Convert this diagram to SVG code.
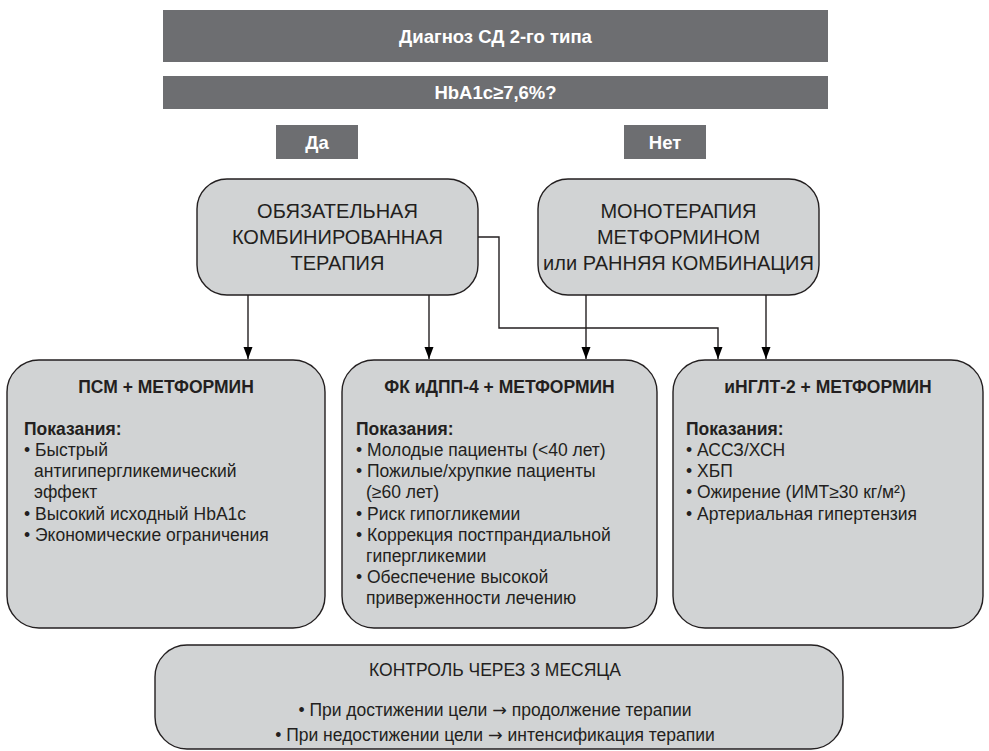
<svg xmlns="http://www.w3.org/2000/svg" width="989" height="751" viewBox="0 0 989 751">
<style>
.bg{fill:#ffffff}
.dark{fill:#6d6e71}
.box{fill:#d1d3d4;stroke:#231f20;stroke-width:1.4}
.wt{font-family:"Liberation Sans",Arial,sans-serif;font-weight:bold;fill:#ffffff;font-size:18.5px;text-anchor:middle}
.cap{font-family:"Liberation Sans",Arial,sans-serif;fill:#231f20;font-size:20px;text-anchor:middle}
.ttl{font-family:"Liberation Sans",Arial,sans-serif;font-weight:bold;fill:#231f20;font-size:17.5px;text-anchor:middle}
.hd{font-family:"Liberation Sans",Arial,sans-serif;font-weight:bold;fill:#231f20;font-size:17.5px}
.tx{font-family:"Liberation Sans",Arial,sans-serif;fill:#231f20;font-size:17.5px}
.bt{font-family:"Liberation Sans",Arial,sans-serif;fill:#231f20;font-size:17.5px;text-anchor:middle}
.ar{font-family:"DejaVu Sans",sans-serif}
.ln{fill:none;stroke:#231f20;stroke-width:1.4}
</style>
<defs>
<marker id="ah" markerUnits="userSpaceOnUse" markerWidth="12" markerHeight="16" refX="16" refY="6" viewBox="0 0 16 12" orient="auto">
<path d="M0,0 L16,6 L0,12 z" fill="#000000"/>
</marker>
</defs>
<rect class="bg" x="0" y="0" width="989" height="751"/>

<g id="diagnosis">
<rect class="dark" x="163" y="10" width="665" height="52"/>
<text class="wt" x="495.5" y="43">Диагноз СД 2-го типа</text>
</g>
<g id="hba1c">
<rect class="dark" x="163" y="76" width="665" height="33"/>
<text class="wt" x="495.5" y="99">HbA1c≥7,6%?</text>
</g>
<g id="yes">
<rect class="dark" x="276" y="125" width="82" height="34"/>
<text class="wt" x="317" y="149">Да</text>
</g>
<g id="no">
<rect class="dark" x="624" y="125" width="82" height="34"/>
<text class="wt" x="665" y="149">Нет</text>
</g>

<g id="combo">
<rect class="box" x="197" y="179" width="281" height="116" rx="30"/>
<text class="cap" x="337.5" y="218">ОБЯЗАТЕЛЬНАЯ</text>
<text class="cap" x="337.5" y="244">КОМБИНИРОВАННАЯ</text>
<text class="cap" x="337.5" y="270">ТЕРАПИЯ</text>
</g>
<g id="mono">
<rect class="box" x="538" y="179" width="281" height="116" rx="30"/>
<text class="cap" x="678.5" y="218">МОНОТЕРАПИЯ</text>
<text class="cap" x="678.5" y="244">МЕТФОРМИНОМ</text>
<text class="cap" x="678.5" y="270">или РАННЯЯ КОМБИНАЦИЯ</text>
</g>

<g id="connectors">
<line class="ln" x1="248" y1="295" x2="248" y2="359" marker-end="url(#ah)"/>
<line class="ln" x1="429" y1="295" x2="429" y2="359" marker-end="url(#ah)"/>
<line class="ln" x1="586" y1="295" x2="586" y2="359" marker-end="url(#ah)"/>
<line class="ln" x1="766" y1="295" x2="766" y2="359" marker-end="url(#ah)"/>
<polyline class="ln" points="478,237 499,237 499,328 718,328 718,359" marker-end="url(#ah)"/>
</g>

<g id="psm">
<rect class="box" x="7" y="360" width="318" height="268" rx="32"/>
<text class="ttl" x="166" y="393">ПСМ + МЕТФОРМИН</text>
<text class="hd" x="24" y="435">Показания:</text>
<text class="tx" x="24" y="456">• Быстрый</text>
<text class="tx" x="34" y="477">антигипергликемический</text>
<text class="tx" x="34" y="498">эффект</text>
<text class="tx" x="24" y="520">• Высокий исходный HbA1c</text>
<text class="tx" x="24" y="541">• Экономические ограничения</text>
</g>

<g id="dpp4">
<rect class="box" x="342" y="360" width="315" height="268" rx="32"/>
<text class="ttl" x="499.5" y="393">ФК иДПП-4 + МЕТФОРМИН</text>
<text class="hd" x="356" y="435">Показания:</text>
<text class="tx" x="356" y="456">• Молодые пациенты (&lt;40 лет)</text>
<text class="tx" x="356" y="477">• Пожилые/хрупкие пациенты</text>
<text class="tx" x="366" y="498">(≥60 лет)</text>
<text class="tx" x="356" y="520">• Риск гипогликемии</text>
<text class="tx" x="356" y="541">• Коррекция постпрандиальной</text>
<text class="tx" x="366" y="562">гипергликемии</text>
<text class="tx" x="356" y="583">• Обеспечение высокой</text>
<text class="tx" x="366" y="604">приверженности лечению</text>
</g>

<g id="sglt2">
<rect class="box" x="673" y="360" width="310" height="268" rx="32"/>
<text class="ttl" x="828" y="393">иНГЛТ-2 + МЕТФОРМИН</text>
<text class="hd" x="686" y="435">Показания:</text>
<text class="tx" x="686" y="456">• АССЗ/ХСН</text>
<text class="tx" x="686" y="477">• ХБП</text>
<text class="tx" x="686" y="498">• Ожирение (ИМТ≥30 кг/м²)</text>
<text class="tx" x="686" y="520">• Артериальная гипертензия</text>
</g>

<g id="control">
<rect class="box" x="155" y="645" width="688" height="104" rx="32"/>
<text class="bt" x="495" y="676">КОНТРОЛЬ ЧЕРЕЗ 3 МЕСЯЦА</text>
<text class="bt" x="495" y="716">• При достижении цели <tspan class="ar">→</tspan> продолжение терапии</text>
<text class="bt" x="495" y="741">• При недостижении цели <tspan class="ar">→</tspan> интенсификация терапии</text>
</g>
</svg>
